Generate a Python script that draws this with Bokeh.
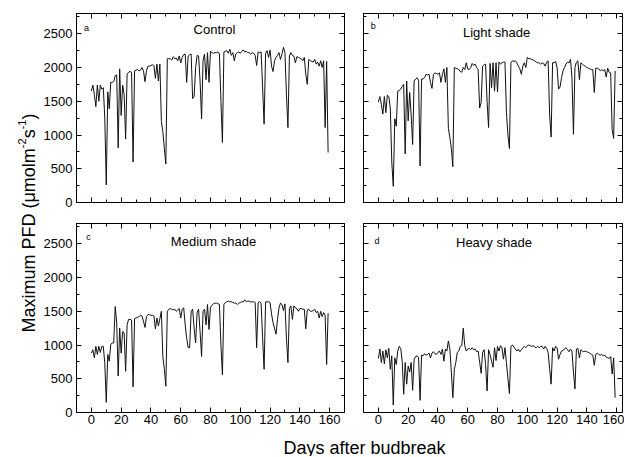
from bokeh.plotting import figure
from bokeh.layouts import row, column
from bokeh.models import Range1d, LinearAxis, SingleIntervalTicker, Label, CustomJSTickFormatter
from bokeh.embed import file_html
from bokeh.resources import INLINE
import math

# ---- data (daily maximum PFD, days 0..159) ----
control = [1650, 1740, 1600, 1420, 1740, 1500, 1740, 1680, 1700, 1250,
           260, 1640, 1390, 1780, 1780, 1790, 1880, 1890, 810, 1980,
           1290, 1740, 1600, 940, 1900, 1930, 1940, 1930, 600, 1950,
           1960, 1970, 1950, 1960, 2000, 1950, 1790, 1950, 2020, 2020,
           2030, 2040, 2030, 1840, 2050, 1800, 2050, 1200, 1050, 800,
           570, 2130, 2130, 2130, 2110, 2160, 2130, 2140, 2100, 2170,
           2070, 2150, 2190, 2200, 1780, 2170, 2190, 2200, 1540, 1570,
           2000, 2180, 2170, 1800, 1240, 2100, 2200, 1820, 2220, 1780,
           2240, 2220, 2210, 2220, 2220, 2230, 2200, 1500, 890, 2230,
           2240, 2250, 2210, 2270, 2180, 2220, 2100, 2200, 2220, 2230,
           2210, 2240, 2260, 2230, 2240, 2220, 2220, 2200, 2220, 2210,
           2180, 2030, 2230, 2220, 2230, 1700, 1160, 2210, 2250, 2150,
           2260, 2020, 1940, 2100, 2150, 2180, 2220, 2120, 2200, 2300,
           2220, 1600, 1110, 2170, 2220, 2180, 2170, 2070, 2160, 2150,
           2140, 2130, 2100, 2150, 1900, 1750, 2120, 2100, 2090, 2080,
           2120, 2050, 2080, 2020, 2100, 2000, 2100, 1110, 2090, 740]

light = [1490, 1570, 1450, 1310, 1570, 1330, 1590, 1570, 1400, 600,
         240, 1240, 1130, 1650, 1660, 1680, 1720, 1750, 720, 1800,
         1210, 1630, 1300, 860, 1800, 1830, 1850, 1810, 540, 1830,
         1830, 1850, 1900, 1890, 1900, 1780, 1690, 1900, 1920, 1910,
         1900, 1920, 1780, 1900, 1980, 1780, 2000, 1100, 960, 800,
         530, 2000, 1990, 1980, 1970, 1940, 1930, 2000, 1970, 2070,
         1980, 1970, 2000, 2060, 2030, 2050, 2000, 1970, 1400, 1480,
         2020, 2040, 2050, 1500, 1110, 2060, 1700, 2070, 1650, 2070,
         1640, 2080, 2050, 2070, 2080, 2080, 1330, 1000, 800, 2070,
         2100, 2090, 2100, 2070, 2020, 1980, 1900, 2020, 2070, 2000,
         2150, 2130, 2130, 2120, 2110, 2100, 2080, 2070, 2070, 2050,
         2070, 2060, 2020, 2080, 2100, 1300, 970, 2070, 2070, 2090,
         2000, 1680, 1710, 1850, 1950, 2000, 2050, 2080, 2070, 2120,
         1850, 1010, 2000, 2080, 2100, 1820, 2070, 2050, 2030, 2020,
         2000, 1990, 1980, 1970, 1970, 1630, 1990, 1990, 1980, 1950,
         1970, 1950, 1970, 1860, 1990, 1930, 1920, 1080, 950, 1950]

medium = [880, 930, 810, 980, 860, 980, 890, 980, 980, 730,
          150, 860, 760, 1010, 1030, 1030, 1570, 1330, 540, 1250,
          880, 1200, 1180, 610, 1300, 1380, 1380, 1370, 380, 1390,
          1400, 1410, 1420, 1440, 1430, 1350, 1260, 1420, 1450, 1450,
          1440, 1440, 1430, 1240, 1400, 1280, 1390, 1500, 830, 640,
          390, 1500, 1530, 1540, 1530, 1520, 1530, 1500, 1520, 1540,
          1400, 1530, 1550, 1300, 1100, 960, 960, 1500, 1530, 1250,
          1030, 1480, 1530, 1200, 830, 1500, 1530, 1300, 1600, 1230,
          1560, 1590, 1610, 1620, 1620, 1610, 1600, 1000, 560, 1600,
          1630, 1640, 1650, 1640, 1640, 1630, 1620, 1620, 1600, 1620,
          1630, 1640, 1640, 1670, 1640, 1650, 1650, 1640, 1640, 1640,
          1630, 960, 1630, 1640, 1620, 1100, 640, 1640, 1640, 1640,
          1630, 1460, 1330, 1250, 1160, 1380, 1550, 1620, 1600, 1510,
          1610, 1100, 740, 1540, 1580, 1380, 1580, 1550, 1540, 1500,
          1540, 1540, 1530, 1530, 1240, 1520, 1530, 1500, 1500, 1510,
          1530, 1480, 1500, 1400, 1500, 1420, 1480, 1440, 710, 1470]

heavy = [800, 940, 740, 910, 720, 930, 810, 950, 640, 840,
         110, 810, 710, 910, 980, 950, 760, 270, 740, 420,
         690, 600, 740, 330, 790, 830, 840, 810, 180, 850,
         840, 870, 850, 860, 880, 810, 880, 900, 870, 860,
         890, 910, 860, 940, 760, 940, 910, 1060, 940, 600,
         220, 640, 740, 890, 910, 980, 990, 1250, 990, 910,
         940, 950, 930, 960, 930, 940, 900, 910, 750, 580,
         890, 930, 710, 320, 930, 860, 760, 670, 960, 770,
         980, 910, 990, 960, 790, 960, 740, 500, 280, 980,
         1000, 970, 940, 910, 940, 900, 930, 960, 980, 960,
         990, 1000, 990, 980, 990, 970, 960, 980, 960, 980,
         980, 940, 980, 950, 890, 650, 420, 960, 910, 980,
         960, 790, 860, 910, 920, 940, 960, 930, 900, 940,
         910, 600, 350, 940, 950, 810, 930, 910, 900, 910,
         900, 890, 880, 860, 850, 700, 860, 880, 860, 850,
         860, 840, 850, 820, 810, 800, 830, 570, 810, 220]

titles = ["Control", "Light shade", "Medium shade", "Heavy shade"]
letters = ["a", "b", "c", "d"]
x_tick_step = 20
y_tick_step = 500
# y label pieces: (text, is_superscript)
y_label_parts = [("Maximum PFD (\u03bcmolm", False), ("-2", True), ("s", False),
                 ("-1", True), (")", False)]
x_label = "Days after budbreak"

FONT = "Liberation Sans"


def style_axis(ax, step, show):
    ax.ticker = SingleIntervalTicker(interval=step, num_minor_ticks=2)
    ax.axis_line_color = "black"
    ax.axis_line_width = 1
    ax.major_tick_line_color = "black"
    ax.minor_tick_line_color = "black"
    ax.major_tick_in = 5
    ax.major_tick_out = 0
    ax.minor_tick_in = 3
    ax.minor_tick_out = 0
    ax.major_label_text_font = FONT
    ax.major_label_text_color = "black"
    ax.major_label_text_font_size = "13px"
    if show:
        ax.major_label_standoff = 4
    else:
        ax.formatter = CustomJSTickFormatter(code="return ''")
        ax.major_label_standoff = 0


def panel(vals, title, letter, title_xy, letter_xy, x_end, width, height,
          borders, show_x, show_y):
    bl, br, bt, bb = borders
    p = figure(width=width, height=height,
               x_range=Range1d(-10, x_end), y_range=Range1d(0, 2800),
               output_backend="svg", toolbar_location=None,
               x_axis_location=None, y_axis_location=None,
               min_border_left=bl, min_border_right=br,
               min_border_top=bt, min_border_bottom=bb)
    p.grid.visible = False
    p.outline_line_color = "black"
    p.background_fill_color = "white"
    p.border_fill_color = "white"
    for side, step, show in [("below", x_tick_step, show_x), ("above", x_tick_step, False)]:
        ax = LinearAxis()
        style_axis(ax, step, show)
        if side == "below" and show:
            ax.major_label_standoff = 2
        p.add_layout(ax, side)
    for side, step, show in [("left", y_tick_step, show_y), ("right", y_tick_step, False)]:
        ax = LinearAxis()
        style_axis(ax, step, show)
        p.add_layout(ax, side)
    days = list(range(len(vals)))
    p.line(days, vals, line_color="#111111", line_width=1)
    p.add_layout(Label(x=title_xy[0], y=title_xy[1], text=title, text_font=FONT,
                       text_font_size="13px", text_align="center",
                       text_baseline="middle", text_color="black"))
    p.add_layout(Label(x=letter_xy[0], y=letter_xy[1], text=letter, text_font=FONT,
                       text_font_size="9px", text_align="center",
                       text_baseline="middle", text_color="black"))
    return p


LW, RW = 313, 271
TH, BH = 212, 217
R_END = -10 + 259 / 1.489

pa = panel(control, titles[0], letters[0], (82.7, 2570), (-3.3, 2590), 170, LW, TH,
           (36, 9, 13, 10), False, True)
pb = panel(light, titles[1], letters[1], (79.4, 2525), (-3.5, 2620), R_END, RW, TH,
           (10, 2, 13, 10), False, False)
pc = panel(medium, titles[2], letters[2], (82, 2530), (-2, 2600), 170, LW, BH,
           (36, 9, 11, 17), True, True)
pd = panel(heavy, titles[3], letters[3], (77.6, 2515), (-0.9, 2545), R_END, RW, BH,
           (10, 2, 11, 17), True, False)


def blank(width, height):
    f = figure(width=width, height=height, x_range=Range1d(0, width), y_range=Range1d(0, height),
               output_backend="svg", toolbar_location=None,
               x_axis_location=None, y_axis_location=None, min_border=0)
    f.grid.visible = False
    f.outline_line_color = None
    f.background_fill_color = "white"
    f.border_fill_color = "white"
    return f


YH = TH + BH
ylab = blank(40, YH)
# approximate advance widths (Arial/Liberation metrics, em units)
ADV = {"M": .833, "a": .556, "x": .5, "i": .222, "m": .833, "u": .556, " ": .278,
       "P": .667, "F": .611, "D": .722, "(": .333, ")": .333, "\u03bc": .576,
       "o": .556, "l": .222, "s": .5, "-": .333, "1": .556, "2": .556}
pos = YH - 332.0
for txt, sup in y_label_parts:
    size = 11 if sup else 18
    ylab.add_layout(Label(x=28 - (7 if sup else 0), y=pos, text=txt, text_font=FONT,
                          text_font_size=f"{size}px", text_align="left",
                          text_baseline="alphabetic", angle=math.pi / 2,
                          text_color="black"))
    pos += sum(ADV.get(c, .556) for c in txt) * size

XH = 27
xlab = blank(LW + RW, XH)
xlab.add_layout(Label(x=324, y=9, text=x_label, text_font=FONT, text_font_size="18px",
                      text_align="center", text_baseline="alphabetic", text_color="black"))

layout = row(ylab, column(row(pa, pb), row(pc, pd), xlab))

open("out.html", "w").write(file_html(layout, INLINE))
